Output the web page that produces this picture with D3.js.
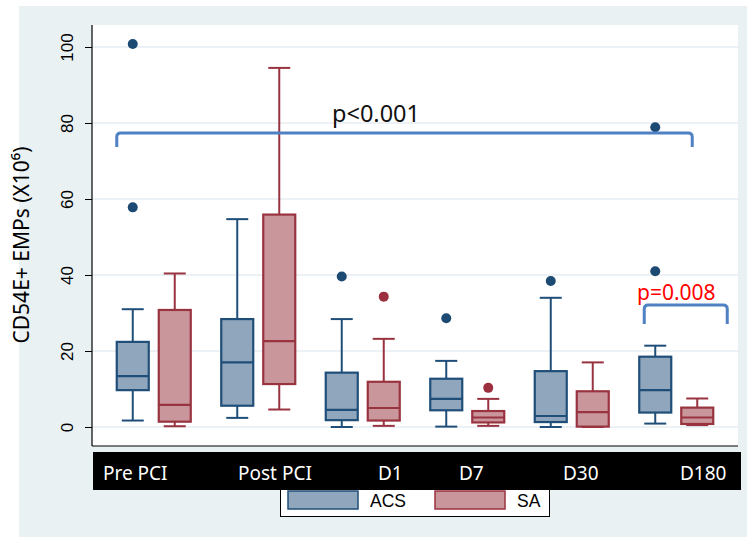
<!DOCTYPE html>
<html>
<head>
<meta charset="utf-8">
<script src="https://cdn.jsdelivr.net/npm/d3@7"></script>
<style>
  html, body { margin: 0; padding: 0; background: #ffffff; }
  svg { display: block; }
</style>
</head>
<body>
<div id="chart"></div>
<script>
var w = 747;
var h = 537;

// time points and groups
var timePoints = ["Pre PCI", "Post PCI", "D1", "D7", "D30", "D180"];
var groups = ["ACS", "SA"];
var yTicks = [0, 20, 40, 60, 80, 100];

// box stats per time point: [lower whisker, q1, median, q3, upper whisker]
var acsStats = [
    [1.7, 9.7, 13.4, 22.4, 31.0],
    [2.4, 5.6, 17.0, 28.4, 54.7],
    [0.0, 1.8, 4.5, 14.3, 28.4],
    [0.1, 4.4, 7.4, 12.7, 17.4],
    [0.0, 1.3, 2.9, 14.7, 34.0],
    [0.9, 3.8, 9.7, 18.5, 21.4]
];
var saStats = [
    [0.2, 1.4, 5.8, 30.8, 40.4],
    [4.6, 11.3, 22.6, 55.9, 94.5],
    [0.3, 1.7, 5.0, 11.9, 23.2],
    [0.3, 1.2, 2.5, 4.2, 7.4],
    [0.0, 0.1, 3.9, 9.4, 17.0],
    [0.5, 0.8, 2.5, 5.1, 7.5]
];
// outliers per time point
var acsOutliers = [[57.8, 100.8], [], [39.6], [28.6], [38.4], [41.0, 78.9]];
var saOutliers = [[], [], [34.3], [10.3], [], []];

var pAll = "p<0.001";
var pD180 = "p=0.008";

var colors = {
    ACS: { fill: "#8fa6bc", stroke: "#1f4e79", dot: "#1c4a73" },
    SA: { fill: "#c9979b", stroke: "#993340", dot: "#9b2f3d" }
};

var svg = d3.select("#chart")
    .append("svg")
    .attr("width", w)
    .attr("height", h);

// outer panel background
svg.append("rect")
    .attr("x", 19).attr("y", 6)
    .attr("width", w - 19).attr("height", h - 6)
    .attr("fill", "#e9f1f3");

var plot = { left: 92, right: 738, top: 25, bottom: 446 };

svg.append("rect")
    .attr("x", plot.left).attr("y", plot.top)
    .attr("width", plot.right - plot.left)
    .attr("height", plot.bottom - plot.top)
    .attr("fill", "#ffffff");

var y = d3.scaleLinear().domain([0, 100]).range([427, 47]);
var x = d3.scaleBand().domain(timePoints).range([101.5, 728.5]);
var sub = d3.scalePoint().domain(groups).range([-21, 21]);
var boxW = 32;
var capW = 22;

// gridlines
svg.append("g")
    .selectAll("line")
    .data(yTicks)
    .enter()
    .append("line")
    .attr("x1", plot.left)
    .attr("x2", plot.right)
    .attr("y1", function(d) { return y(d); })
    .attr("y2", function(d) { return y(d); })
    .attr("stroke", "#e4edf0")
    .attr("stroke-width", 1.5);

// y axis
var yAxis = d3.axisLeft(y).tickValues(yTicks).tickSize(7).tickPadding(0);
var ya = svg.append("g")
    .attr("transform", "translate(" + plot.left + ",0)")
    .call(yAxis);
ya.select(".domain").remove();
ya.selectAll(".tick line").attr("stroke", "#000").attr("stroke-width", 1);
ya.selectAll(".tick text")
    .attr("x", null).attr("dy", null)
    .attr("transform", "translate(-19,0) rotate(-90)")
    .attr("text-anchor", "middle")
    .attr("font-family", "Liberation Sans, Arial, sans-serif")
    .attr("font-size", 17)
    .attr("fill", "#000");

svg.append("line")
    .attr("x1", plot.left).attr("x2", plot.left)
    .attr("y1", plot.top).attr("y2", plot.bottom)
    .attr("stroke", "#000").attr("stroke-width", 1.2);
svg.append("line")
    .attr("x1", plot.left).attr("x2", plot.right)
    .attr("y1", plot.bottom).attr("y2", plot.bottom)
    .attr("stroke", "#000").attr("stroke-width", 1.2);

// y label
svg.append("text")
    .attr("transform", "translate(29,245) rotate(-90)")
    .attr("text-anchor", "middle")
    .attr("font-family", "Noto Sans, sans-serif")
    .attr("font-size", 21)
    .attr("fill", "#000")
    .text("CD54E+ EMPs (X10⁶)");

// boxes
function drawGroup(name, stats, outliers) {
    var c = colors[name];
    var g = svg.append("g").attr("class", "grp-" + name);
    var items = g.selectAll("g")
        .data(stats)
        .enter()
        .append("g")
        .attr("transform", function(d, i) {
            return "translate(" + (x(timePoints[i]) + x.bandwidth() / 2 + sub(name)) + ",0)";
        });

    // whiskers
    items.append("line")
        .attr("x1", 0).attr("x2", 0)
        .attr("y1", function(d) { return y(d[3]); })
        .attr("y2", function(d) { return y(d[4]); })
        .attr("stroke", c.stroke).attr("stroke-width", 2);
    items.append("line")
        .attr("x1", 0).attr("x2", 0)
        .attr("y1", function(d) { return y(d[1]); })
        .attr("y2", function(d) { return y(d[0]); })
        .attr("stroke", c.stroke).attr("stroke-width", 2);
    items.append("line")
        .attr("x1", -capW / 2).attr("x2", capW / 2)
        .attr("y1", function(d) { return y(d[4]); })
        .attr("y2", function(d) { return y(d[4]); })
        .attr("stroke", c.stroke).attr("stroke-width", 2);
    items.append("line")
        .attr("x1", -capW / 2).attr("x2", capW / 2)
        .attr("y1", function(d) { return y(d[0]); })
        .attr("y2", function(d) { return y(d[0]); })
        .attr("stroke", c.stroke).attr("stroke-width", 2);

    items.append("rect")
        .attr("x", -boxW / 2)
        .attr("width", boxW)
        .attr("y", function(d) { return y(d[3]); })
        .attr("height", function(d) { return y(d[1]) - y(d[3]); })
        .attr("fill", c.fill)
        .attr("stroke", c.stroke)
        .attr("stroke-width", 2.2);

    items.append("line")
        .attr("x1", -boxW / 2).attr("x2", boxW / 2)
        .attr("y1", function(d) { return y(d[2]); })
        .attr("y2", function(d) { return y(d[2]); })
        .attr("stroke", c.stroke).attr("stroke-width", 2.2);

    items.selectAll("circle")
        .data(function(d, i) { return outliers[i]; })
        .enter()
        .append("circle")
        .attr("cx", 0)
        .attr("cy", function(v) { return y(v); })
        .attr("r", 5)
        .attr("fill", c.dot);
}

drawGroup("ACS", acsStats, acsOutliers);
drawGroup("SA", saStats, saOutliers);

// brackets
function cx(t, g) { return x(t) + x.bandwidth() / 2 + sub(g); }
function bracket(x1, x2, yTop, yBot) {
    var r = 4;
    return "M" + x1 + "," + yBot + " L" + x1 + "," + (yTop + r) +
        " Q" + x1 + "," + yTop + " " + (x1 + r) + "," + yTop +
        " L" + (x2 - r) + "," + yTop +
        " Q" + x2 + "," + yTop + " " + x2 + "," + (yTop + r) +
        " L" + x2 + "," + yBot;
}
svg.append("path")
    .attr("d", bracket(cx("Pre PCI", "ACS") - boxW / 2, cx("D180", "SA") - 5, 133, 147))
    .attr("fill", "none")
    .attr("stroke", "#4f81c3")
    .attr("stroke-width", 3);
svg.append("text")
    .attr("x", 332).attr("y", 122)
    .attr("font-family", "Noto Sans, sans-serif")
    .attr("font-size", 23.5)
    .attr("fill", "#111")
    .text(pAll);

svg.append("path")
    .attr("d", bracket(cx("D180", "ACS") - 11, cx("D180", "SA") + 30, 305, 324))
    .attr("fill", "none")
    .attr("stroke", "#4f81c3")
    .attr("stroke-width", 3);
svg.append("text")
    .attr("x", 637).attr("y", 300)
    .attr("font-family", "Noto Sans, sans-serif")
    .attr("font-size", 21)
    .attr("fill", "#ff0000")
    .text(pD180);

// legend
var lg = svg.append("g");
lg.append("rect")
    .attr("x", 280.5).attr("y", 482.5)
    .attr("width", 269).attr("height", 34)
    .attr("fill", "#fff").attr("stroke", "#000").attr("stroke-width", 1);
var li = lg.selectAll("g")
    .data(groups)
    .enter()
    .append("g")
    .attr("transform", function(d, i) { return "translate(" + (288 + i * 147) + ",0)"; });
li.append("rect")
    .attr("x", 0).attr("y", 491)
    .attr("width", 70).attr("height", 18)
    .attr("fill", function(d) { return colors[d].fill; })
    .attr("stroke", function(d) { return colors[d].stroke; })
    .attr("stroke-width", 1.5);
li.append("text")
    .attr("x", 82).attr("y", 507)
    .attr("font-family", "Liberation Sans, Arial, sans-serif")
    .attr("font-size", 17.5)
    .attr("fill", "#000")
    .text(function(d) { return d; });

// black category bar
svg.append("rect")
    .attr("x", 93).attr("y", 452)
    .attr("width", 648).attr("height", 38)
    .attr("fill", "#000");
var labelStart = [103, 238, 378, 459, 563, 680];
svg.append("g")
    .selectAll("text")
    .data(timePoints)
    .enter()
    .append("text")
    .attr("x", function(d, i) { return labelStart[i]; })
    .attr("y", 480)
    .attr("font-family", "Noto Sans, sans-serif")
    .attr("font-size", 19)
    .attr("fill", "#fff")
    .text(function(d) { return d; });
</script>
</body>
</html>
